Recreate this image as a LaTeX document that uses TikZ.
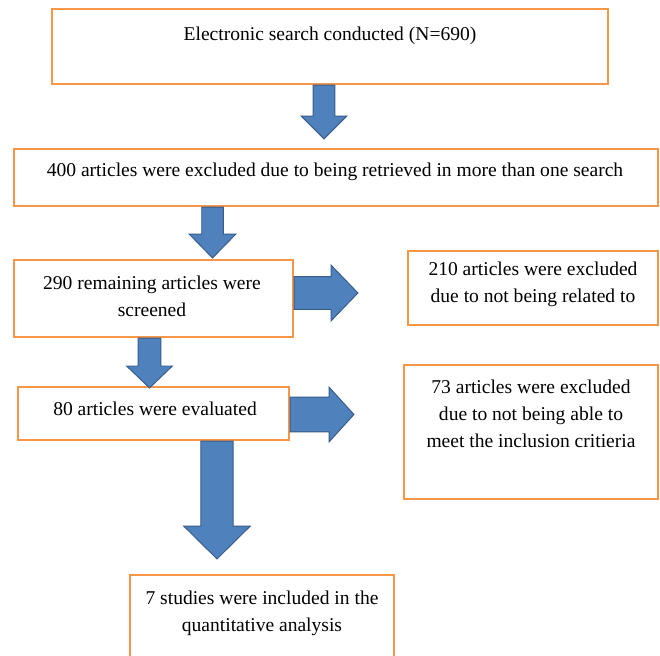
\documentclass[tikz,border=0pt]{standalone}
\usepackage{fontspec}
\setmainfont{Liberation Serif}
\usetikzlibrary{calc}
\definecolor{boxorange}{RGB}{247,150,70}
\definecolor{arrowblue}{RGB}{79,129,189}
\definecolor{arrowedge}{RGB}{56,93,138}

% fat block arrow: start, tip, half shaft, half head, head length
\newcommand\fatarrow[5]{%
  \coordinate (hb) at ($(#2)!#5!(#1)$);
  \filldraw[blockarrow] ($(#1)!#3!90:(#2)$) -- ($(hb)!#3!90:(#2)$) -- ($(hb)!#4!90:(#2)$) -- (#2)
    -- ($(hb)!#4!-90:(#2)$) -- ($(hb)!#3!-90:(#2)$) -- ($(#1)!#3!-90:(#2)$) -- cycle;}

\begin{document}
\begin{tikzpicture}[x=0.025cm,y=-0.025cm,
  box/.style={draw=boxorange,line width=1.5pt,fill=white,inner sep=0pt},
  blockarrow/.style={fill=arrowblue,draw=arrowedge,line width=0.7pt,line join=miter},
  txt/.style={align=center,font=\fontsize{13.9}{19.3}\selectfont,inner sep=0pt}]
\clip (0,0) rectangle (660,656);
\fill[white] (0,0) rectangle (660,656);

\node[box,minimum width=13.9cm,minimum height=1.875cm] (b1) at (330,46.5) {};
\node[box,minimum width=16.1cm,minimum height=1.425cm] (b2) at (336,177.5) {};
\node[box,minimum width=6.975cm,minimum height=1.925cm] (b3) at (153.5,298.5) {};
\node[box,minimum width=6.25cm,minimum height=1.85cm] (b4) at (533,288) {};
\node[box,minimum width=6.775cm,minimum height=1.325cm] (b5) at (153.5,413.5) {};
\node[box,minimum width=6.35cm,minimum height=3.35cm] (b6) at (531,432) {};
\node[box,minimum width=6.6cm,minimum height=2.25cm] (b7) at (262,620) {};

\node[txt] (t1) at (330,36) {Electronic search conducted (N=690)};
\node[txt] (t2) at (335,172) {400 articles were excluded due to being retrieved in more than one search};
\node[txt] (t3) at (152,296.5) {290 remaining articles were\\screened};
\node[txt] (t4) at (533,284.5) {210 articles were excluded\\due to not being related to};
\node[txt] (t5) at (155,409) {80 articles were evaluated};
\node[txt] (t6) at (531,414) {73 articles were excluded\\due to not being able to\\meet the inclusion critieria};
\node[txt] (t7) at (262,613.5) {7 studies were included in the\\quantitative analysis};

\coordinate (a1s) at ($(b1.south)+(-6,0)$);
\coordinate (a1e) at ($(b2.north)+(-12,-9)$);
\coordinate (a2s) at ($(b2.south)+(-123.5,0)$);
\coordinate (a2e) at ($(b3.north)+(59,-1)$);
\coordinate (a3s) at ($(b3.south)+(-4,0)$);
\coordinate (a3e) at ($(b5.north)+(-4,2)$);
\coordinate (a4s) at ($(b5.south)+(63.5,0)$);
\coordinate (a4e) at ($(b7.north)+(-45,-15)$);
\coordinate (r1s) at ($(b3.east)+(0,-5.5)$);
\coordinate (r1e) at ($(b4.west)+(-49,5)$);
\coordinate (r2s) at ($(b5.east)+(0,1)$);
\coordinate (r2e) at ($(b6.west)+(-49,-17.5)$);

\fatarrow{a1s}{a1e}{7.8pt}{16.3pt}{16.3pt}
\fatarrow{a2s}{a2e}{7.65pt}{16.65pt}{17pt}
\fatarrow{a3s}{a3e}{8.15pt}{16.3pt}{15.6pt}
\fatarrow{a4s}{a4e}{11.5pt}{23.7pt}{23.4pt}
\fatarrow{r1s}{r1e}{11.7pt}{19.8pt}{19.1pt}
\fatarrow{r2s}{r2e}{12.4pt}{19.5pt}{17.7pt}
\end{tikzpicture}
\end{document}
